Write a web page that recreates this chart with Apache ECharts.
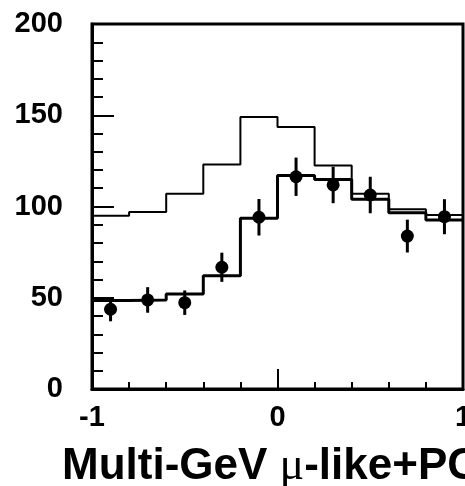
<!DOCTYPE html>
<html>
<head>
<meta charset="utf-8">
<script src="https://cdn.jsdelivr.net/npm/echarts@6/dist/echarts.min.js"></script>
<style>
html,body{margin:0;padding:0;background:#fff;}
#chart{width:465px;height:486px;}
</style>
</head>
<body>
<div id="chart"></div>
<script>
// Bin edges of cos(theta) histogram
var binEdges = [-1, -0.8, -0.6, -0.4, -0.2, 0, 0.2, 0.4, 0.6, 0.8, 1];
// Bin centres for data points
var binCenters = [-0.9, -0.7, -0.5, -0.3, -0.1, 0.1, 0.3, 0.5, 0.7, 0.9];
// MC prediction without oscillation (upper histogram)
var mcNoOsc = [95, 97, 107, 123, 149, 143.5, 122.5, 107, 98.5, 95.3];
// Best-fit oscillation expectation (lower histogram)
var mcOsc = [48.5, 48.7, 52, 62, 93.5, 117, 114.8, 104, 96.6, 92.6];
// Observed data and statistical errors
var dataVals = [43.7, 48.8, 47.3, 66.7, 94.1, 116.3, 111.8, 106.3, 83.8, 94.4];
var dataErr = [6.6, 7, 6.7, 8, 10, 10.5, 10, 10, 9, 9.6];
// Tick labels
var xTickLabels = ['-1', '0', '1'];
var yTickLabels = ['0', '50', '100', '150', '200'];

function histPoints(vals) {
  return binEdges.map(function (e, i) {
    return [e, vals[Math.min(i, vals.length - 1)]];
  });
}

var FONT = '"Liberation Sans", Arial, Helvetica, sans-serif';

var chart = echarts.init(document.getElementById('chart'), null, {renderer: 'canvas'});
chart.setOption({
  animation: false,
  backgroundColor: '#fff',
  grid: {
    left: 92, top: 24, right: 2, bottom: 97,
    outerBoundsMode: 'none', containLabel: false,
    show: true, borderColor: '#000', borderWidth: 3, backgroundColor: 'transparent'
  },
  title: {
    left: 57, top: 439,
    text: '{a|Multi-GeV }{b|\u03bc}{a|-like+PC}',
    textStyle: {
      rich: {
        a: {fontFamily: FONT, fontWeight: 'bold', fontSize: 44, color: '#000'},
        b: {fontFamily: '"Liberation Serif", "DejaVu Serif", serif', fontWeight: 'normal', fontSize: 46, color: '#000'}
      }
    }
  },
  xAxis: {
    type: 'value', min: -1, max: 1, interval: 1,
    axisLine: {show: true, onZero: false, lineStyle: {color: '#000', width: 3}},
    axisTick: {show: true, inside: true, length: 20, lineStyle: {color: '#000', width: 2}},
    minorTick: {show: true, splitNumber: 5, length: 7, lineStyle: {color: '#000', width: 2}},
    splitLine: {show: false},
    axisLabel: {
      margin: 14, color: '#000', fontFamily: FONT, fontWeight: 'bold', fontSize: 29,
      formatter: function (v) { var i = [-1, 0, 1].indexOf(v); return i >= 0 ? xTickLabels[i] : ''; }
    }
  },
  yAxis: {
    type: 'value', min: 0, max: 200, interval: 50,
    axisLine: {show: true, onZero: false, lineStyle: {color: '#000', width: 3}},
    axisTick: {show: true, inside: true, length: 22, lineStyle: {color: '#000', width: 2}},
    minorTick: {show: true, splitNumber: 5, length: 11, lineStyle: {color: '#000', width: 2}},
    splitLine: {show: false},
    axisLabel: {
      margin: 29, color: '#000', fontFamily: FONT, fontWeight: 'bold', fontSize: 29,
      formatter: function (v) { return yTickLabels[Math.round(v / 50)]; }
    }
  },
  series: [
    {
      type: 'line', step: 'end', symbol: 'none',
      data: histPoints(mcNoOsc),
      lineStyle: {color: '#000', width: 2}
    },
    {
      type: 'line', step: 'end', symbol: 'none',
      data: histPoints(mcOsc),
      lineStyle: {color: '#000', width: 3}
    },
    {
      type: 'custom',
      data: binCenters.map(function (c, i) { return [c, dataVals[i], dataErr[i]]; }),
      renderItem: function (params, api) {
        var x = api.value(0), y = api.value(1), e = api.value(2);
        var p1 = api.coord([x, y - e]);
        var p2 = api.coord([x, y + e]);
        return {
          type: 'line',
          shape: {x1: p1[0], y1: p1[1], x2: p2[0], y2: p2[1]},
          style: {stroke: '#000', lineWidth: 3}
        };
      },
      z: 3
    },
    {
      type: 'scatter', symbol: 'circle', symbolSize: 13,
      data: binCenters.map(function (c, i) { return [c, dataVals[i]]; }),
      itemStyle: {color: '#000', opacity: 1},
      z: 4
    }
  ]
});
</script>
</body>
</html>
